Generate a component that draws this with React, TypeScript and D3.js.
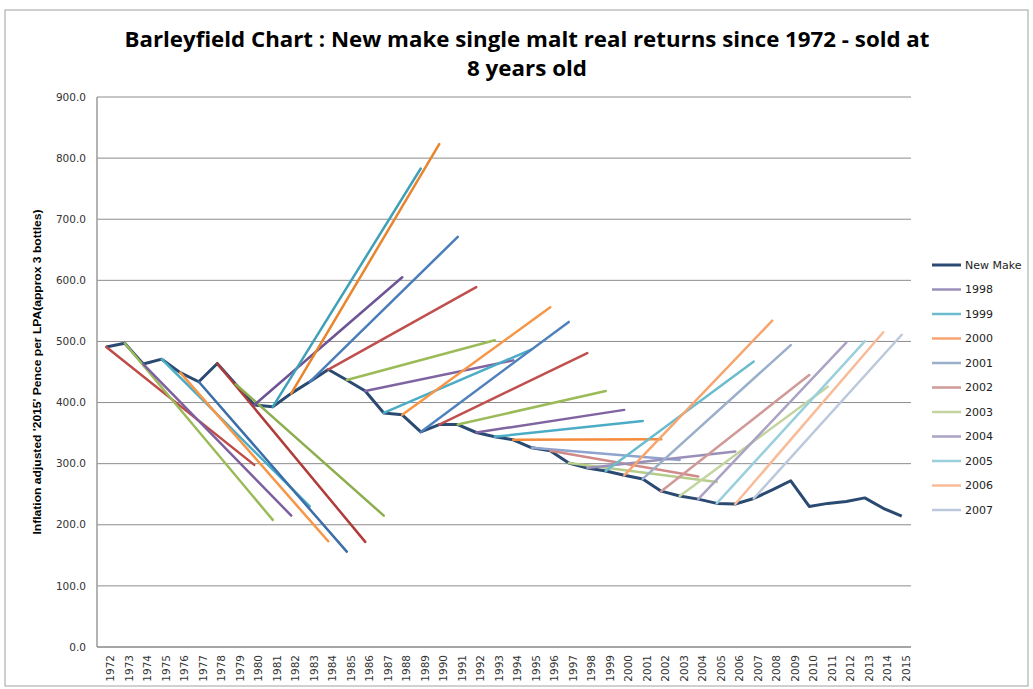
import React from 'react';
import * as d3 from 'd3';

// category axis
const years = [
  1972, 1973, 1974, 1975, 1976, 1977, 1978, 1979, 1980, 1981, 1982,
  1983, 1984, 1985, 1986, 1987, 1988, 1989, 1990, 1991, 1992, 1993,
  1994, 1995, 1996, 1997, 1998, 1999, 2000, 2001, 2002, 2003, 2004,
  2005, 2006, 2007, 2008, 2009, 2010, 2011, 2012, 2013, 2014, 2015,
];

// new make price, inflation adjusted
const newMake = [
  491, 497, 463, 471, 449, 434, 464, 430, 396, 393, 415,
  434, 454, 437, 419, 383, 380, 352, 364, 364, 351, 344,
  339, 326, 321, 301, 293, 288, 281, 275, 255, 247, 242,
  235, 234, 243, 257, 272, 230, 235, 238, 244, 227, 214,
];

// each vintage is bought as new make and sold 8 years later
const vintages = [
  1972, 1973, 1974, 1975, 1976, 1977, 1978, 1979, 1980, 1981, 1982, 1983,
  1984, 1985, 1986, 1987, 1988, 1989, 1990, 1991, 1992, 1993, 1994, 1995,
  1996, 1997, 1998, 1999, 2000, 2001, 2002, 2003, 2004, 2005, 2006, 2007,
];
const soldAt8 = [
  298, 208, 215, 230, 173, 156, 172, 215, 605, 783, 823, 671,
  589, 502, 469, 487, 556, 532, 481, 419, 388, 370, 340, 306,
  279, 270, 320, 467, 534, 494, 445, 426, 498, 500, 515, 511,
];
const vintageColors = [
  '#be4b48', '#9bbb59', '#7d5fa0', '#4bacc6', '#f79646', '#3c6ea8',
  '#b03c3a', '#8cae4e', '#6e5494', '#3fa0b8', '#e8852e', '#4a7dba',
  '#c0504d', '#9bbb59', '#8064a2', '#4bacc6', '#f79646', '#4f81bd',
  '#c0504d', '#9bbb59', '#8064a2', '#4bacc6', '#f58a3a', '#8fa3cf',
  '#d08a88', '#b5cc8a', '#9a8fb8', '#6bbccd', '#f7a46f', '#9aafc9',
  '#cf9a98', '#c2d49f', '#aba2c4', '#9acfdb', '#f8bc98', '#bcc8dc',
];
const newMakeColor = '#2a4a72';

const yTicks = [0, 100, 200, 300, 400, 500, 600, 700, 800, 900];
const legendNames = ['New Make', '1998', '1999', '2000', '2001', '2002', '2003', '2004', '2005', '2006', '2007'];

const App = () => {
  const x = d3.scaleBand<number>().domain(years).range([97, 911]);
  const cx = (yr: number) => (x(yr) as number) + x.bandwidth() / 2;
  const y = d3.scaleLinear().domain([0, 900]).range([647, 97]);
  const fmt = d3.format('.1f');

  const line = d3.line<[number, number]>()
    .x(d => cx(d[0]))
    .y(d => y(d[1]));

  const nmPts: [number, number][] = years.map((yr, i) => [yr, newMake[i]]);
  const vintageLines = vintages.map((v, i) => ({
    name: String(v),
    color: vintageColors[i],
    pts: [[v, newMake[years.indexOf(v)]], [v + 8, soldAt8[i]]] as [number, number][],
  }));

  const legendColor = (name: string) =>
    name === 'New Make' ? newMakeColor : vintageLines.find(l => l.name === name)!.color;

  return (
    <svg width={1033} height={689} style={{ position: 'absolute', left: 0, top: 0, background: '#fff' }}
      fontFamily="'DejaVu Sans', sans-serif">
      <rect x={5} y={10} width={1023} height={676} fill="none" stroke="#a0a0a0" strokeWidth={1} />

      <text x={527} y={47} textAnchor="middle" fontFamily="'Open Sans', sans-serif" fontWeight="bold"
        fontSize={21} textLength={805} lengthAdjust="spacingAndGlyphs" fill="#000">
        Barleyfield Chart : New make single malt real returns since 1972 - sold at
      </text>
      <text x={527} y={76} textAnchor="middle" fontFamily="'Open Sans', sans-serif" fontWeight="bold"
        fontSize={21} textLength={120} lengthAdjust="spacingAndGlyphs" fill="#000">
        8 years old
      </text>

      {yTicks.map(t => (
        <g key={t}>
          <line x1={97} x2={911} y1={y(t)} y2={y(t)} stroke="#8c8c8c" strokeWidth={1} />
          <text x={86} y={y(t)} dy="0.35em" textAnchor="end" fontSize={10.5} fill="#333">{fmt(t)}</text>
        </g>
      ))}
      <line x1={97} x2={97} y1={97} y2={647} stroke="#9a9a9a" strokeWidth={1.5} />
      <line x1={97} x2={911} y1={647} y2={647} stroke="#9a9a9a" strokeWidth={1.5} />

      {years.map(yr => (
        <text key={yr} transform={`translate(${cx(yr) + 8},655) rotate(-90)`} textAnchor="end"
          fontSize={10.5} fill="#333">{yr}</text>
      ))}

      <text transform="translate(41,372) rotate(-90)" textAnchor="middle" fontFamily="'Liberation Sans', sans-serif"
        fontWeight="bold" fontSize={10} textLength={325} lengthAdjust="spacingAndGlyphs" fill="#000">
        Inflation adjusted '2015' Pence per LPA(approx 3 bottles)
      </text>

      <path d={line(nmPts) ?? ''} fill="none" stroke={newMakeColor} strokeWidth={3} strokeLinejoin="round" />
      {vintageLines.map(l => (
        <path key={l.name} d={line(l.pts) ?? ''} fill="none" stroke={l.color} strokeWidth={2.5} strokeLinecap="round" />
      ))}

      {legendNames.map((n, i) => (
        <g key={n} transform={`translate(0,${265 + i * 24.5})`}>
          <line x1={932} x2={961} y1={0} y2={0} stroke={legendColor(n)} strokeWidth={n === 'New Make' ? 3 : 2.5} />
          <text x={965} y={0} dy="0.35em" fontSize={11} fill="#222">{n}</text>
        </g>
      ))}
    </svg>
  );
};

export default App;
